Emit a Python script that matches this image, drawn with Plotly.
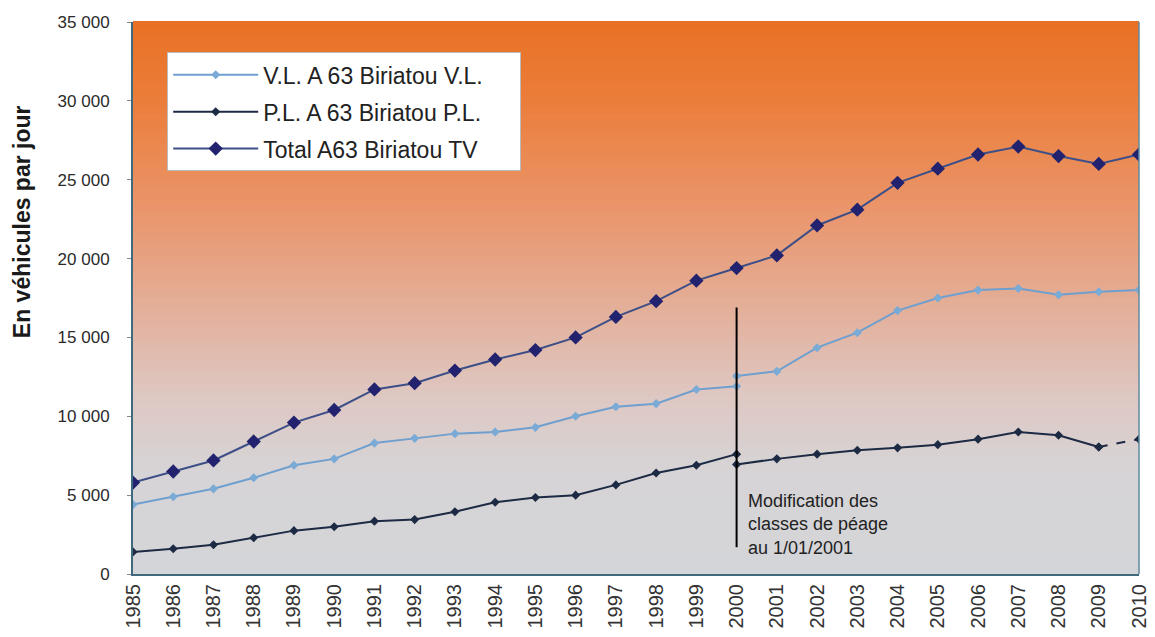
import plotly.graph_objects as go

years = list(range(1985, 2011))

# V.L. (light vehicles) - before / after the 2001 toll class change
vl_years_old = list(range(1985, 2001))
vl_old = [4400, 4900, 5400, 6100, 6900, 7300, 8300, 8600, 8900, 9000,
          9300, 10000, 10600, 10800, 11700, 11900]
vl_years_new = list(range(2000, 2011))
vl_new = [12550, 12850, 14350, 15300, 16700, 17500, 18000, 18100, 17700, 17900, 18000]

# P.L. (heavy vehicles)
pl_years_old = list(range(1985, 2001))
pl_old = [1400, 1600, 1850, 2300, 2750, 3000, 3350, 3450, 3950, 4550,
          4850, 5000, 5650, 6400, 6900, 7600]
pl_years_new = list(range(2000, 2010))
pl_new = [6950, 7300, 7600, 7850, 8000, 8200, 8550, 9000, 8800, 8050]
pl_years_est = [2009, 2010]
pl_est = [8050, 8550]

# Total
total = [5800, 6500, 7200, 8400, 9600, 10400, 11700, 12100, 12900, 13600,
         14200, 15000, 16300, 17300, 18600, 19400, 20200, 22100, 23100, 24800,
         25700, 26600, 27100, 26500, 26000, 26600]

y_ticks = [0, 5000, 10000, 15000, 20000, 25000, 30000, 35000]
y_labels = ["0", "5 000", "10 000", "15 000", "20 000", "25 000", "30 000", "35 000"]

VL_COL = "#6f9fcf"
PL_COL = "#1c2a44"
TV_LINE = "#3d4f86"
TV_MARK = "#22226e"
PAD = "\u00a0" * 5

fig = go.Figure()

fig.add_trace(go.Scatter(
    x=vl_years_old + [None] + vl_years_new,
    y=vl_old + [None] + vl_new,
    mode="lines+markers", name="V.L. A 63 Biriatou V.L." + PAD, legendgroup="vl",
    line={"color": VL_COL, "width": 2},
    marker={"symbol": "diamond", "size": 7, "color": "#7aaad6"},
))
fig.add_trace(go.Scatter(
    x=pl_years_old + [None] + pl_years_new,
    y=pl_old + [None] + pl_new,
    mode="lines+markers", name="P.L. A 63 Biriatou P.L.", legendgroup="pl",
    line={"color": PL_COL, "width": 2},
    marker={"symbol": "diamond", "size": 7, "color": PL_COL},
))
fig.add_trace(go.Scatter(
    x=pl_years_est, y=pl_est, mode="lines+markers", showlegend=False,
    legendgroup="pl",
    line={"color": PL_COL, "width": 2, "dash": "dash"},
    marker={"symbol": "diamond", "size": 7, "color": PL_COL},
))
fig.add_trace(go.Scatter(
    x=years, y=total,
    mode="lines+markers", name="Total A63 Biriatou TV", legendgroup="tv",
    line={"color": TV_LINE, "width": 2},
    marker={"symbol": "diamond", "size": 11, "color": TV_MARK},
))


# vertical gradient background (orange -> grey)
def lerp(a, b, t):
    return tuple(round(a[i] + (b[i] - a[i]) * t) for i in range(3))


stops = [(0.0, (212, 213, 217)), (0.18, (214, 212, 214)), (0.32, (222, 200, 195)),
         (0.5, (228, 172, 148)), (0.67, (234, 148, 105)), (0.85, (235, 126, 60)),
         (1.0, (233, 112, 36))]
shapes = []
n = 90
for i in range(n):
    t = (i + 0.5) / n
    for j in range(len(stops) - 1):
        if stops[j][0] <= t <= stops[j + 1][0]:
            f = (t - stops[j][0]) / (stops[j + 1][0] - stops[j][0])
            c = lerp(stops[j][1], stops[j + 1][1], f)
            break
    shapes.append(dict(type="rect", xref="x domain", yref="y domain",
                       x0=0, x1=1, y0=i / n, y1=(i + 1) / n + 0.002,
                       fillcolor="rgb(%d,%d,%d)" % c, line={"width": 0},
                       layer="below"))

shapes.append(dict(type="line", xref="x", yref="y", x0=2000, x1=2000,
                   y0=1700, y1=16900, line={"color": "black", "width": 2}))
shapes.append(dict(type="line", xref="x domain", yref="y domain", x0=1, x1=1,
                   y0=0, y1=1, line={"color": "#5f8aa0", "width": 1.5}))

fig.add_annotation(
    x=2000, y=900, xref="x", yref="y", xanchor="left", yanchor="bottom",
    xshift=9, align="left", showarrow=False,
    text="Modification des<br>classes de péage<br>au 1/01/2001",
    font={"family": "Liberation Sans, Arial", "size": 18, "color": "#222"},
)
# y axis title (placed off-centre, as in the source)
fig.add_annotation(
    x=-0.111, y=0.638, xref="paper", yref="paper", xanchor="center",
    yanchor="middle", textangle=-90, showarrow=False,
    text="<b>En véhicules par jour</b>",
    font={"family": "Liberation Sans, Arial", "size": 23, "color": "#1a1a1a"},
)

# the page body has an 8px margin, so margins are shifted accordingly
fig.update_layout(
    width=1155, height=637,
    margin={"l": 125, "r": 24, "t": 14, "b": 71},
    paper_bgcolor="white", plot_bgcolor="#d8d8da",
    font={"family": "Liberation Sans, Arial", "color": "#333"},
    shapes=shapes,
    showlegend=True,
    legend={"x": 0.034, "y": 0.945, "xanchor": "left", "yanchor": "top",
            "bgcolor": "white", "bordercolor": "#bbbbbb", "borderwidth": 1,
            "font": {"size": 23, "color": "#222"}, "tracegroupgap": 4,
            "itemwidth": 85},
)
fig.update_xaxes(
    range=[1985, 2010], tickvals=years, ticktext=[str(y) for y in years],
    tickangle=-90, tickfont={"size": 20, "color": "#333"},
    showgrid=False, zeroline=False, showline=True, linecolor="#3f6a7e",
    linewidth=2, ticks="", fixedrange=True, automargin=False,
)
fig.update_yaxes(
    range=[0, 35000], tickvals=y_ticks, ticktext=y_labels,
    tickfont={"size": 17, "color": "#2a2a2a"}, ticklabelstandoff=14,
    showgrid=False, zeroline=False, showline=True, linecolor="#3f6a7e",
    linewidth=2, ticks="outside", ticklen=4, tickcolor="#888", automargin=False,
)

fig.write_html("out.html")
